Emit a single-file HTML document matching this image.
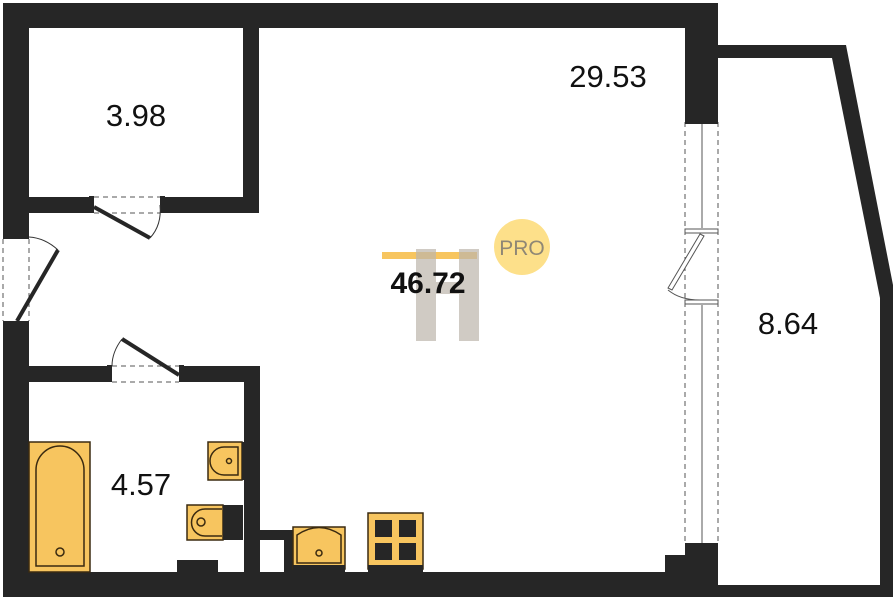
<!DOCTYPE html>
<html><head><meta charset="utf-8"><style>html,body{margin:0;padding:0;background:#fff;}svg{display:block}</style></head>
<body>
<svg width="896" height="600" viewBox="0 0 896 600" xmlns="http://www.w3.org/2000/svg" font-family="'Liberation Sans', sans-serif">
<g fill="#262626">
<rect x="3" y="3" width="715" height="25"/>
<rect x="3" y="3" width="26" height="232"/>
<rect x="3" y="325" width="26" height="272"/>
<rect x="3" y="572" width="715" height="25"/>
<rect x="685" y="3" width="33" height="119"/>
<rect x="685" y="545" width="33" height="52"/>
<rect x="665" y="555" width="25" height="20"/>
<rect x="243" y="28" width="16" height="185"/>
<rect x="29" y="197" width="61" height="16"/>
<rect x="165" y="197" width="94" height="16"/>
<rect x="29" y="366" width="80" height="16"/>
<rect x="183" y="366" width="77" height="16"/>
<rect x="244" y="366" width="16" height="206"/>
<rect x="260" y="530" width="33" height="10"/>
<rect x="284" y="530" width="9" height="42"/>
<rect x="177" y="560" width="41" height="12"/>
<rect x="718" y="45" width="120" height="13"/>
<polygon points="830,45 846,45 893,285 893,300 880,300 880,298 832,58"/>
<rect x="880" y="290" width="13" height="307"/>
<rect x="718" y="585" width="175" height="12"/>
</g>
<g fill="#262626">
<rect x="89" y="196" width="5" height="17"/><rect x="160" y="196" width="5" height="17"/>
<rect x="3" y="234" width="26" height="5"/><rect x="3" y="321" width="26" height="5"/>
<rect x="107" y="365" width="5" height="17"/><rect x="179" y="365" width="5" height="17"/>
</g>
<g fill="none" stroke="#555" stroke-dasharray="5,4" stroke-width="1">
<line x1="94" y1="197" x2="160" y2="197"/><line x1="94" y1="213" x2="160" y2="213"/>
<line x1="3" y1="239" x2="3" y2="321"/><line x1="29" y1="239" x2="29" y2="321"/>
<line x1="112" y1="366" x2="179" y2="366"/><line x1="112" y1="382" x2="179" y2="382"/>
<line x1="685" y1="122" x2="685" y2="545"/><line x1="718" y1="122" x2="718" y2="545"/>
</g>
<g stroke="#262626" stroke-width="4">
<line x1="94" y1="207" x2="150" y2="238"/>
<line x1="17" y1="321" x2="58" y2="250"/>
<line x1="122" y1="339" x2="179" y2="375"/>
</g>
<g fill="none" stroke="#333" stroke-width="1">
<path d="M150,238 Q162,225 160,205"/>
<path d="M58,250 Q45,238 29,237"/>
<path d="M122,339 Q112,352 112,366"/>
</g>
<rect x="685" y="120" width="33" height="4" fill="#262626"/>
<rect x="685" y="543" width="33" height="4" fill="#262626"/>
<g stroke="#555" stroke-width="1" fill="#fff">
<line x1="702" y1="124" x2="702" y2="228"/>
<line x1="702" y1="305" x2="702" y2="543"/>
<rect x="685" y="229" width="33" height="4"/>
<rect x="685" y="300" width="33" height="4"/>
<polygon points="700,234 704,236 672,290 668,288"/>
<path d="M668,290 Q680,300 700,300" fill="none"/>
</g>
<g fill="#f7c55f" stroke="#3a2a10" stroke-width="1.5">
<rect x="29" y="442" width="61" height="130"/>
<path d="M36,566 V470 A24,24 0 0 1 84,470 V566 Z"/>
<circle cx="60" cy="552" r="4"/>
<rect x="208" y="442" width="34" height="38"/>
<path d="M238,447 H224 A14,14 0 0 0 224,475 H238 Z"/>
<circle cx="229" cy="461" r="2.5"/>
<rect x="187" y="505" width="36" height="35"/>
<path d="M222,509 H205 A13,13 0 0 0 205,536 H222"/>
<circle cx="201" cy="522" r="4"/>
<rect x="293" y="527" width="52" height="42"/>
<path d="M297,563 V535 Q319,520 341,535 V563 Z"/>
<circle cx="319" cy="553" r="3"/>
<rect x="368" y="513" width="55" height="56"/>
</g>
<rect x="223" y="505" width="20" height="35" fill="#262626"/>
<rect x="242" y="442" width="3" height="38" fill="#262626"/>
<g fill="#262626">
<rect x="375" y="520" width="17" height="17"/><rect x="399" y="520" width="17" height="17"/>
<rect x="375" y="543" width="17" height="17"/><rect x="399" y="543" width="17" height="17"/>
<rect x="293" y="565" width="52" height="7"/><rect x="368" y="565" width="55" height="7"/>
</g>
<rect x="382" y="252" width="95" height="7" fill="#f7c55f"/>
<g fill="#bdb6ac" opacity="0.7">
<rect x="416" y="249" width="20" height="92"/>
<rect x="459" y="249" width="20" height="92"/>
<rect x="436" y="282" width="23" height="12"/>
</g>
<circle cx="522" cy="247" r="28" fill="#fde08a"/>
<text x="522" y="255" font-size="21" fill="#8f8775" text-anchor="middle">PRO</text>
<g font-size="31" fill="#111" text-anchor="middle">
<text x="136" y="126">3.98</text>
<text x="608" y="87">29.53</text>
<text x="788" y="334">8.64</text>
<text x="141" y="495">4.57</text>
</g>
<text x="428" y="293" font-size="30" font-weight="bold" fill="#111" text-anchor="middle">46.72</text>
</svg>
</body></html>
